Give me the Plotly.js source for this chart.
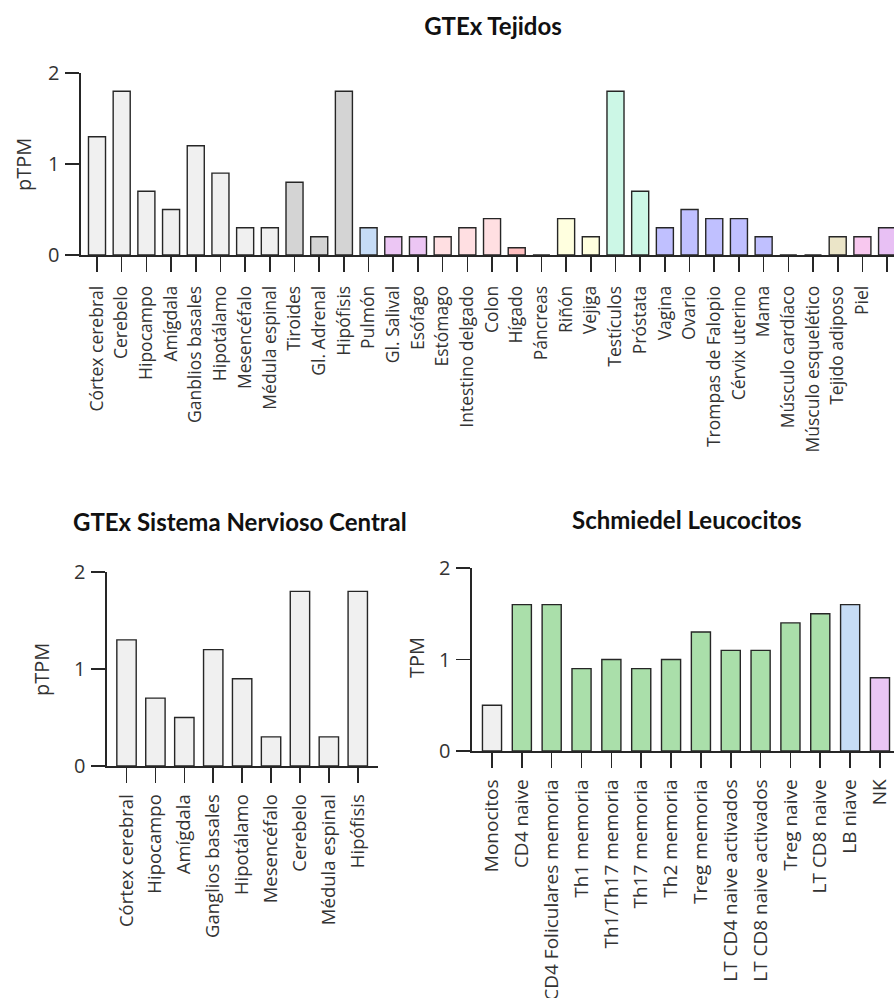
<!DOCTYPE html>
<html>
<head>
<meta charset="utf-8">
<script src="https://cdn.plot.ly/plotly-3.0.1.min.js"></script>
<style>
  html, body { margin: 0; padding: 0; background: #ffffff; }
  #chart { width: 894px; height: 998px; }
</style>
</head>
<body>
<div id="chart"></div>
<script>
// ---------- Data ----------
const tissueCategories = ["Córtex cerebral", "Cerebelo", "Hipocampo", "Amígdala", "Ganblios basales", "Hipotálamo",
  "Mesencéfalo", "Médula espinal", "Tiroides", "Gl. Adrenal", "Hipófisis", "Pulmón", "Gl. Salival", "Esófago",
  "Estómago", "Intestino delgado", "Colon", "Hígado", "Páncreas", "Riñón", "Vejiga", "Testículos", "Próstata",
  "Vagina", "Ovario", "Trompas de Falopio", "Cérvix uterino", "Mama", "Músculo cardíaco", "Músculo esquelético",
  "Tejido adiposo", "Piel", "Hígado"];
const tissueValues = [1.3, 1.8, 0.7, 0.5, 1.2, 0.9, 0.3, 0.3, 0.8, 0.2, 1.8, 0.3, 0.2, 0.2,
  0.2, 0.3, 0.4, 0.08, 0, 0.4, 0.2, 1.8, 0.7, 0.3, 0.5, 0.4, 0.4, 0.2, 0, 0, 0.2, 0.2, 0.3];
const tissueColors = ["#f0f0f0", "#f0f0f0", "#f0f0f0", "#f0f0f0", "#f0f0f0", "#f0f0f0", "#f0f0f0", "#f0f0f0",
  "#d4d4d4", "#d4d4d4", "#d4d4d4", "#c6dcf6", "#ecc6f4", "#ecc6f4", "#ffdfe2", "#ffdfe2", "#ffdfe2", "#ffbfc0",
  "#ffdfe2", "#ffffdf", "#ffffdf", "#ccf7e6", "#ccf7e6", "#c0c0ff", "#c0c0ff", "#c0c0ff", "#c0c0ff", "#c0c0ff",
  "#f0f0f0", "#f0f0f0", "#ebe5c8", "#f8c8ef", "#e8c0f4"];

const cnsCategories = ["Córtex cerebral", "Hipocampo", "Amígdala", "Ganglios basales", "Hipotálamo",
  "Mesencéfalo", "Cerebelo", "Médula espinal", "Hipófisis"];
const cnsValues = [1.3, 0.7, 0.5, 1.2, 0.9, 0.3, 1.8, 0.3, 1.8];

const leukoCategories = ["Monocitos", "CD4 naive", "CD4 Foliculares memoria", "Th1 memoria", "Th1/Th17 memoria",
  "Th17 memoria", "Th2 memoria", "Treg memoria", "LT CD4 naive activados", "LT CD8 naive activados",
  "Treg naive", "LT CD8 naive", "LB niave", "NK"];
const leukoValues = [0.5, 1.6, 1.6, 0.9, 1.0, 0.9, 1.0, 1.3, 1.1, 1.1, 1.4, 1.5, 1.6, 0.8];
const leukoColors = ["#f0f0f0", "#aadfaa", "#aadfaa", "#aadfaa", "#aadfaa", "#aadfaa", "#aadfaa", "#aadfaa",
  "#aadfaa", "#aadfaa", "#aadfaa", "#aadfaa", "#c6dcf5", "#eac6f4"];

const yTicks = [0, 1, 2];

// ---------- Layout helpers ----------
const W = 894, H = 998;
const dx = (a, b) => [a / W, b / W];
const dy = (top, bottom) => [1 - bottom / H, 1 - top / H];
const idx = arr => arr.map((_, i) => i);

const ink = "#262626";
const sans = "'Open Sans', 'Noto Sans', sans-serif";
const yTickFont = { family: sans, size: 20, color: "#333333" };
const titleFont = { family: "Lato, 'Open Sans', sans-serif", size: 24, color: "#111111", weight: "bold" };
const axTitleFont = { family: sans, size: 20, color: "#333333" };

function xAxis(domain, range, cats, anchor, standoff, fontSize) {
  return {
    domain: domain, range: range, anchor: anchor,
    tickmode: "array", tickvals: idx(cats), ticktext: cats, tickangle: -90,
    ticks: "outside", ticklen: 15, tickwidth: 1.6, tickcolor: ink, ticklabelstandoff: standoff,
    showline: true, linewidth: 1.8, linecolor: ink,
    showgrid: false, zeroline: false, fixedrange: true,
    tickfont: { family: sans, size: fontSize, color: "#333333" }
  };
}
function yAxis(domain, anchor) {
  return {
    domain: domain, range: [0, 2], anchor: anchor,
    tickmode: "array", tickvals: yTicks, ticktext: yTicks.map(String),
    ticks: "outside", ticklen: 14, tickwidth: 1.6, tickcolor: ink, ticklabelstandoff: 2,
    showline: true, linewidth: 1.6, linecolor: ink,
    showgrid: false, zeroline: false, tickfont: yTickFont, fixedrange: true
  };
}

const barLine = { color: ink, width: 1.4 };

const traces = [
  { type: "bar", x: idx(tissueCategories), y: tissueValues, width: 0.69, xaxis: "x", yaxis: "y",
    marker: { color: tissueColors, line: barLine }, hoverinfo: "skip",
    text: tissueCategories, textposition: "none" },
  { type: "bar", x: idx(cnsCategories), y: cnsValues, width: 0.67, xaxis: "x2", yaxis: "y2",
    marker: { color: "#f0f0f0", line: barLine }, hoverinfo: "skip",
    text: cnsCategories, textposition: "none" },
  { type: "bar", x: idx(leukoCategories), y: leukoValues, width: 0.64, xaxis: "x3", yaxis: "y3",
    marker: { color: leukoColors, line: barLine }, hoverinfo: "skip",
    text: leukoCategories, textposition: "none" }
];

const layout = {
  width: W, height: H,
  margin: { l: 0, r: 0, t: 0, b: 0 },
  paper_bgcolor: "#ffffff", plot_bgcolor: "rgba(0,0,0,0)",
  showlegend: false, bargap: 0,
  title: { text: "GTEx Tejidos", font: titleFont, x: 493 / W, xanchor: "center", y: 1 - 27 / H, yanchor: "middle" },
  xaxis: xAxis(dx(81, 894), [-0.648, 32.28], tissueCategories, "y", 7, 17.5),
  yaxis: yAxis(dy(73, 255), "x"),
  xaxis2: xAxis(dx(107, 378), [-0.675, 8.70], cnsCategories, "y2", 4, 18.5),
  yaxis2: yAxis(dy(572, 766), "x2"),
  xaxis3: xAxis(dx(472, 894), [-0.67, 13.47], leukoCategories, "y3", 4, 19),
  yaxis3: yAxis(dy(568, 751), "x3"),
  annotations: [
    { text: "GTEx Sistema Nervioso Central", font: titleFont, xref: "paper", yref: "paper",
      x: 240 / W, y: 1 - 521 / H, xanchor: "center", yanchor: "middle", showarrow: false },
    { text: "Schmiedel Leucocitos", font: titleFont, xref: "paper", yref: "paper",
      x: 687 / W, y: 1 - 519 / H, xanchor: "center", yanchor: "middle", showarrow: false },
    { text: "pTPM", font: axTitleFont, textangle: -90, xref: "paper", yref: "paper",
      x: 23 / W, y: 1 - 165 / H, xanchor: "center", yanchor: "middle", showarrow: false },
    { text: "pTPM", font: axTitleFont, textangle: -90, xref: "paper", yref: "paper",
      x: 41 / W, y: 1 - 670 / H, xanchor: "center", yanchor: "middle", showarrow: false },
    { text: "TPM", font: axTitleFont, textangle: -90, xref: "paper", yref: "paper",
      x: 416 / W, y: 1 - 658 / H, xanchor: "center", yanchor: "middle", showarrow: false }
  ]
};

Plotly.newPlot("chart", traces, layout, { displayModeBar: false, staticPlot: true });
</script>
</body>
</html>
